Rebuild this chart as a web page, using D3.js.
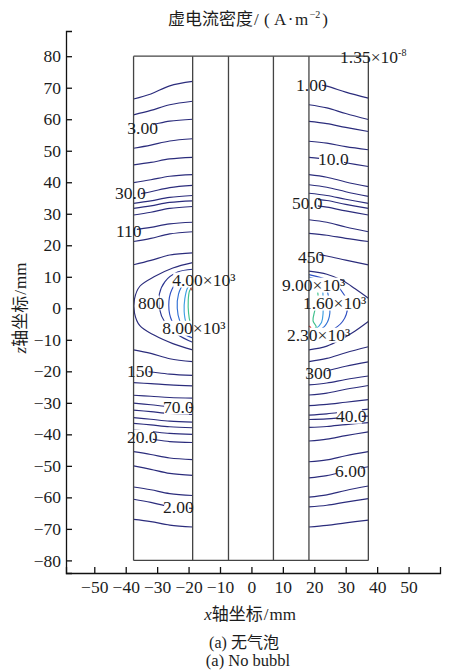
<!DOCTYPE html>
<html>
<head>
<meta charset="utf-8">
<script src="https://cdn.jsdelivr.net/npm/d3@7"></script>
<style>
  body { margin: 0; background: #fff; }
  svg { display: block; }
  text { font-family: "Liberation Serif", "DejaVu Serif", serif; }
  .cjk { font-family: "Noto Sans CJK SC", "Noto Sans CJK JP", sans-serif; }
</style>
</head>
<body>
<svg id="chart" width="449" height="672"></svg>
<script>
// ---- cell geometry (mm) ----
const wallX = [-37.5, -18.7, -7.3, 7.0, 18.3, 37.2];
const wallZ = [-80, 80];

// ---- axis ticks ----
const xTicks = [-50, -40, -30, -20, -10, 0, 10, 20, 30, 40, 50];
const zTicks = [-80, -70, -60, -50, -40, -30, -20, -10, 0, 10, 20, 30, 40, 50, 60, 70, 80];

// ---- contour lines in the left electrolyte gap: z (mm) at these x stations ----
const leftX = [-37.5, -32, -26, -18.7];
const leftUpperZ = [
  [66.4, 68.0, 70.6, 72.0],
  [61.4, 62.8, 64.6, 65.7],
  [57.4, 58.2, 59.4, 60.0],
  [50.8, 51.8, 53.1, 53.8],
  [45.5, 46.3, 47.4, 47.9],
  [39.9, 40.8, 41.9, 42.4],
  [36.0, 37.0, 38.3, 39.0],
  [33.3, 34.1, 35.2, 35.8],
  [31.7, 32.5, 33.6, 34.1],
  [29.6, 30.5, 31.7, 32.3],
  [24.9, 25.7, 26.8, 27.3],
  [21.2, 22.2, 23.6, 24.3],
  [13.8, 15.2, 16.9, 17.6]
];
const leftLowerZ = [
  [-13.2, -14.3, -16.0, -16.9],
  [-19.6, -20.2, -20.9, -21.3],
  [-23.6, -23.9, -24.3, -24.6],
  [-27.6, -27.9, -28.3, -28.5],
  [-30.1, -30.6, -31.2, -31.5],
  [-32.3, -32.8, -33.4, -33.7],
  [-34.7, -35.2, -35.8, -36.1],
  [-36.5, -37.0, -37.6, -37.9],
  [-38.6, -39.1, -39.7, -40.0],
  [-40.8, -41.5, -42.3, -42.6],
  [-45.5, -46.4, -47.5, -48.0],
  [-50.0, -51.1, -52.4, -53.0],
  [-56.7, -57.6, -58.8, -59.4],
  [-60.6, -61.6, -62.9, -63.5],
  [-67.0, -67.7, -68.8, -69.4]
];

// ---- contour lines in the right electrolyte gap ----
const rightX = [18.3, 24, 30, 37.2];
const rightUpperZ = [
  [71.5, 70.5, 68.6, 66.7],
  [64.6, 63.6, 61.8, 59.9],
  [59.3, 58.6, 57.4, 56.1],
  [53.0, 52.4, 51.3, 50.3],
  [47.9, 47.3, 46.2, 45.0],
  [42.4, 41.6, 40.1, 38.6],
  [39.2, 38.4, 37.0, 35.5],
  [36.5, 35.8, 34.6, 33.3],
  [34.9, 34.2, 33.0, 31.7],
  [32.8, 32.1, 30.9, 29.6],
  [28.1, 27.3, 25.8, 24.3],
  [23.8, 23.2, 22.2, 21.2],
  [17.5, 16.6, 15.3, 13.8]
];
const rightLowerZ = [
  [-16.9, -15.9, -14.1, -12.2],
  [-20.5, -19.8, -18.4, -17.0],
  [-24.3, -23.7, -22.6, -21.5],
  [-27.5, -26.9, -25.7, -24.5],
  [-30.9, -30.5, -29.8, -29.0],
  [-33.9, -33.5, -32.8, -32.0],
  [-35.3, -35.1, -34.6, -34.2],
  [-37.8, -37.5, -36.9, -36.3],
  [-42.1, -41.5, -40.4, -39.2],
  [-48.7, -48.1, -46.8, -45.5],
  [-53.8, -53.1, -51.7, -50.3],
  [-59.9, -59.2, -57.8, -56.4],
  [-63.0, -62.5, -61.5, -60.4],
  [-69.4, -68.9, -68.1, -67.2]
];

// ---- closed-in contours round the hot spots at the electrode edges ----
// band: 0 = outermost ... 6 = peak
const leftCore = [
  { band: 0, pts: [[-18.7, 14.5], [-25, 12.8], [-31, 10], [-35.5, 7], [-37.2, 3], [-37.2, -1.5], [-35.5, -5.5], [-31, -8.5], [-25, -11.2], [-18.7, -13.2]] },
  { band: 1, pts: [[-18.7, 12.4], [-23.5, 11.5], [-27.5, 8.5], [-29.3, 4.5], [-29.3, 0], [-27.5, -4.5], [-23.5, -8.3], [-18.7, -10.8]] },
  { band: 2, pts: [[-18.7, 10.8], [-22.5, 9.3], [-25.3, 6], [-26.3, 1], [-25.3, -4], [-22.5, -7.5], [-18.7, -9.4]] },
  { band: 3, pts: [[-18.7, 9.5], [-21.5, 7.8], [-23.2, 4.5], [-23.6, 0], [-22.8, -4], [-20.8, -7], [-18.7, -8.3]] },
  { band: 4, pts: [[-18.7, 8.2], [-20.3, 6.5], [-21.2, 3], [-21.4, -1], [-20.8, -4.5], [-19.5, -6.6], [-18.7, -7.3]] },
  { band: 5, pts: [[-18.8, 6.8], [-19.7, 5.5], [-20.1, 2.5], [-20.0, -1.5], [-19.5, -4.5], [-18.8, -6.2]] },
  { band: 6, pts: [[-18.7, 7.0], [-19.3, 6.3], [-18.7, 5.6]] },
  { band: 6, pts: [[-18.7, -6.4], [-19.3, -7.0], [-18.7, -7.6]] }
];
const rightCore = [
  { band: 0, pts: [[18.3, 11.8], [24, 10.8], [29, 8.8], [33, 6.2], [37.2, 3.2]] },
  { band: 0, pts: [[37.2, -4.2], [33, -7.2], [29, -9.6], [24, -12.0], [18.3, -13.2]] },
  { band: 2, pts: [[18.3, 10.7], [25.3, 8.5], [29.5, 4.3], [30.6, 0.6], [29.0, -4.2], [24.8, -7.4], [18.3, -9.5]] },
  { band: 3, pts: [[18.3, 9.9], [23.2, 7.6], [24.6, 3.2], [24.8, -2.6], [23.2, -5.8], [18.3, -8.2]] },
  { band: 4, pts: [[18.3, 9.2], [22.1, 7.4], [22.8, 2.7], [22.3, -4.5], [20.2, -6.7], [18.3, -7.5]] },
  { band: 5, pts: [[18.6, 8.3], [20.6, 6.6], [21.2, 3.0], [20.1, -1.0], [19.6, -4.0], [20.6, -6.0], [18.6, -7.0]] },
  { band: 6, pts: [[18.3, 6.6], [18.9, 5.9], [18.3, 5.2]] },
  { band: 6, pts: [[18.3, -5.6], [18.9, -6.2], [18.3, -6.8]] }
];

// ---- contour value labels (left edge x, centre z in mm) ----
const contourLabels = [
  { text: "1.00", x: 14.2, z: 70.8 },
  { text: "10.0", x: 21.2, z: 47.4 },
  { text: "50.0", x: 12.9, z: 33.4 },
  { text: "450", x: 14.8, z: 16.3 },
  { text: "9.00×10³", x: 9.7, z: 7.4 },
  { text: "1.60×10³", x: 16.4, z: 1.7 },
  { text: "2.30×10³", x: 11.3, z: -8.5 },
  { text: "300", x: 17.1, z: -20.5 },
  { text: "40.0", x: 26.9, z: -34.2 },
  { text: "6.00", x: 26.6, z: -51.6 },
  { text: "3.00", x: -39.5, z: 57.2 },
  { text: "30.0", x: -43.4, z: 36.6 },
  { text: "110", x: -43.1, z: 24.5 },
  { text: "800", x: -36.1, z: 1.7 },
  { text: "4.00×10³", x: -25.2, z: 9.0 },
  { text: "8.00×10³", x: -28.4, z: -6.3 },
  { text: "150", x: -39.6, z: -19.9 },
  { text: "70.0", x: -28.1, z: -31.3 },
  { text: "20.0", x: -39.6, z: -40.8 },
  { text: "2.00", x: -28.1, z: -63.1 }
];
const minLabel = { text: "1.35×10", sup: "-8", x: 28.2, z: 79.8 };

// ---- scales ----
const svg = d3.select("#chart");
const x = d3.scaleLinear().domain([-59, 60]).range([66, 440]);
const y = d3.scaleLinear().domain([-84, 88]).range([573, 31]);
const bandColor = d3.scaleOrdinal()
  .domain(d3.range(7))
  .range(["#2b2c7c", "#2b3590", "#2f4fc2", "#3070d4", "#3d9fe2", "#3fc08c", "#e2322b"]);

const line = d3.line()
  .x(d => x(d[0]))
  .y(d => y(d[1]))
  .curve(d3.curveCatmullRom.alpha(0.5));

// assemble every contour polyline
const contours = [];
leftUpperZ.forEach(zs => contours.push({ band: 0, pts: leftX.map((v, i) => [v, zs[i]]) }));
leftLowerZ.forEach(zs => contours.push({ band: 0, pts: leftX.map((v, i) => [v, zs[i]]) }));
rightUpperZ.forEach(zs => contours.push({ band: 0, pts: rightX.map((v, i) => [v, zs[i]]) }));
rightLowerZ.forEach(zs => contours.push({ band: 0, pts: rightX.map((v, i) => [v, zs[i]]) }));
leftCore.forEach(c => contours.push(c));
rightCore.forEach(c => contours.push(c));

// mask that opens gaps in the contour lines under their labels
const defs = svg.append("defs");
const mask = defs.append("mask").attr("id", "labelGaps")
  .attr("maskUnits", "userSpaceOnUse")
  .attr("x", 0).attr("y", 0).attr("width", 449).attr("height", 672);
mask.append("rect").attr("width", 449).attr("height", 672).attr("fill", "#fff");

// contour lines
svg.append("g")
  .attr("mask", "url(#labelGaps)")
  .selectAll("path")
  .data(contours)
  .join("path")
  .attr("d", d => line(d.pts))
  .attr("fill", "none")
  .attr("stroke", d => bandColor(d.band))
  .attr("stroke-width", 1.15);

// cell walls
const frame = svg.append("g").attr("stroke", "#444").attr("stroke-width", 1.3).attr("fill", "none");
wallX.forEach(wx => {
  frame.append("line")
    .attr("x1", x(wx)).attr("x2", x(wx))
    .attr("y1", y(wallZ[0])).attr("y2", y(wallZ[1]));
});
wallZ.forEach(wz => {
  frame.append("line")
    .attr("x1", x(wallX[0])).attr("x2", x(wallX[wallX.length - 1]))
    .attr("y1", y(wz)).attr("y2", y(wz));
});

// contour labels
const labelG = svg.append("g")
  .attr("font-size", "17.5px")
  .attr("fill", "#1c1c1c");
labelG.selectAll("text")
  .data(contourLabels)
  .join("text")
  .attr("x", d => x(d.x))
  .attr("y", d => y(d.z))
  .attr("dy", "0.35em")
  .text(d => d.text)
  .each(function () {
    const b = this.getBBox();
    mask.append("rect")
      .attr("x", b.x + 1).attr("y", b.y + 2.5)
      .attr("width", Math.max(0, b.width - 6)).attr("height", b.height - 5)
      .attr("fill", "#000");
  });

const minText = labelG.append("text")
  .attr("x", x(minLabel.x))
  .attr("y", y(minLabel.z))
  .attr("dy", "0.35em");
minText.append("tspan").text(minLabel.text);
minText.append("tspan").attr("font-size", "10px").attr("dy", "-7").text(minLabel.sup);

// axes
const xAxis = d3.axisBottom(x).tickValues(xTicks)
  .tickSizeInner(-6).tickSizeOuter(-6).tickPadding(8)
  .tickFormat(d3.format("d"));
const yAxis = d3.axisLeft(y).tickValues(zTicks)
  .tickSizeInner(-6).tickSizeOuter(-6).tickPadding(5)
  .tickFormat(d3.format("d"));

const gx = svg.append("g").attr("transform", `translate(0,${y(-84)})`).call(xAxis);
const gy = svg.append("g").attr("transform", `translate(${x(-59)},0)`).call(yAxis);
[gx, gy].forEach(g => {
  g.attr("font-family", null).attr("font-size", "17.5px");
  g.selectAll("path, line").attr("stroke", "#111").attr("stroke-width", 1.3);
  g.selectAll("text").attr("fill", "#1c1c1c");
});

// title
const title = svg.append("text").attr("y", 25).attr("font-size", "17px").attr("fill", "#1c1c1c");
title.append("tspan").attr("x", 168).attr("class", "cjk").text("虚电流密度");
title.append("tspan").attr("x", 254).text("/");
title.append("tspan").attr("x", 264).text("(");
title.append("tspan").attr("x", 274).attr("letter-spacing", "1.5").text("A·m");
title.append("tspan").attr("font-size", "10px").attr("dy", "-7").text("−2");
title.append("tspan").attr("dy", "7").attr("dx", "2").text(")");

// axis titles
const xt = svg.append("text").attr("x", 250).attr("y", 620)
  .attr("text-anchor", "middle").attr("font-size", "17px").attr("fill", "#1c1c1c");
xt.append("tspan").attr("font-style", "italic").text("x");
xt.append("tspan").attr("class", "cjk").text("轴坐标");
xt.append("tspan").attr("dx", "1").text("/");
xt.append("tspan").attr("dx", "1").text("mm");

const yt = svg.append("text")
  .attr("transform", "translate(26,308) rotate(-90)")
  .attr("text-anchor", "middle").attr("font-size", "17px").attr("fill", "#1c1c1c");
yt.append("tspan").attr("font-style", "italic").text("z");
yt.append("tspan").attr("class", "cjk").text("轴坐标");
yt.append("tspan").attr("dx", "1").text("/");
yt.append("tspan").attr("dx", "1").text("mm");

// captions
const cap1 = svg.append("text").attr("x", 244).attr("y", 648)
  .attr("text-anchor", "middle").attr("font-size", "16px").attr("fill", "#1c1c1c");
cap1.append("tspan").text("(a) ");
cap1.append("tspan").attr("class", "cjk").text("无气泡");
svg.append("text").attr("x", 248).attr("y", 666)
  .attr("text-anchor", "middle").attr("font-size", "16.5px").attr("fill", "#1c1c1c")
  .text("(a) No bubbl");
</script>
</body>
</html>
